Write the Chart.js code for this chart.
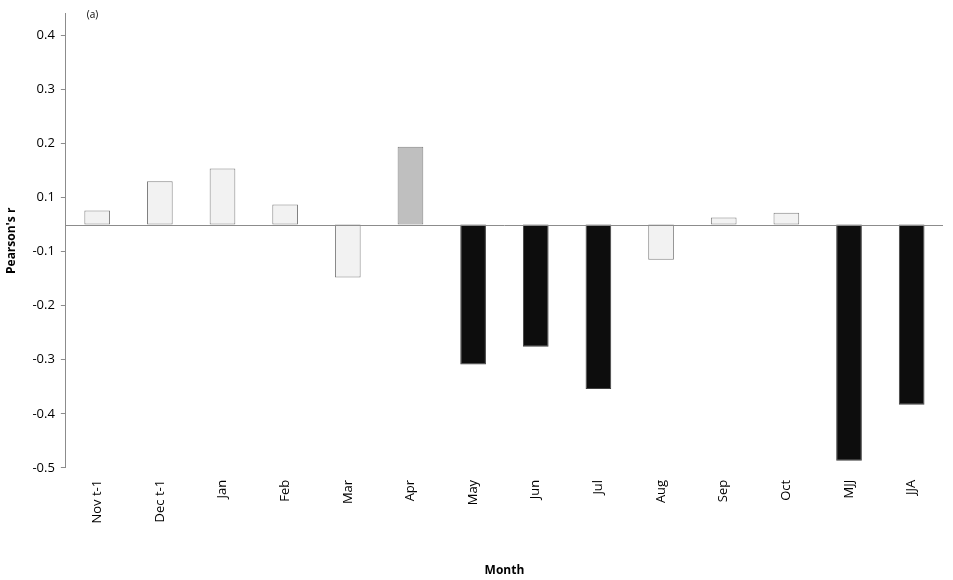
<!DOCTYPE html>
<html><head><meta charset="utf-8">
<script src="https://cdn.jsdelivr.net/npm/chart.js@4"></script>
<style>html,body{margin:0;background:#fff}#w{width:953px;height:580px}</style>
</head><body><div id="w"><canvas id="c"></canvas></div>
<script>
const categories = ["Nov t-1","Dec t-1","Jan","Feb","Mar","Apr","May","Jun","Jul","Aug","Sep","Oct","MJJ","JJA"];
const values = [0.076,0.130,0.154,0.087,-0.148,0.194,-0.309,-0.276,-0.354,-0.115,0.063,0.072,-0.487,-0.383];
const fillColors = ["#f2f2f2","#f2f2f2","#f2f2f2","#f2f2f2","#f2f2f2","#bfbfbf","#0d0d0d","#0d0d0d","#0d0d0d","#f2f2f2","#f2f2f2","#f2f2f2","#0d0d0d","#0d0d0d"];
const tickLabels = ["0.4","0.3","0.2","0.1","-0.1","-0.2","-0.3","-0.4","-0.5"];
// axis in the original skips 0: positive labels map directly, negative labels shift by 0.1, baseline sits between
const tickPos = [0.4,0.3,0.2,0.1,0.0,-0.1,-0.2,-0.3,-0.4];
const BASE = 0.05;
const toAxis = v => v >= 0 ? v : v + 0.1;
const font = {family:"'Open Sans', sans-serif", size:13};
const baseline = {id:'baseline', afterDatasetsDraw(ch){
  const {ctx, chartArea:a, scales:{y}} = ch; const py = Math.round(y.getPixelForValue(BASE))+0.5;
  ctx.save(); ctx.strokeStyle='#8c8c8c'; ctx.lineWidth=1; ctx.beginPath(); ctx.moveTo(a.left,py); ctx.lineTo(a.right,py); ctx.stroke();
  ctx.fillStyle='#000'; ctx.font="10px 'Open Sans', sans-serif"; ctx.fillText('(a)', a.left+21, 18); ctx.restore();
}};
new Chart(document.getElementById('c'), {
  type:'bar',
  data:{labels:categories, datasets:[{data:values.map(v=>[BASE,toAxis(v)]), backgroundColor:fillColors,
    borderColor:fillColors.map(c=>c==="#0d0d0d"?"#404040":"#808080"), borderWidth:1, borderSkipped:false,
    categoryPercentage:1, barPercentage:0.41}]},
  options:{responsive:true, maintainAspectRatio:false, animation:false,
    layout:{padding:{top:-5,right:10,left:0,bottom:0}},
    plugins:{legend:{display:false}, tooltip:{enabled:false}},
    scales:{
      x:{grid:{display:false, drawTicks:false}, border:{display:false},
        ticks:{font, color:'#000', minRotation:90, maxRotation:90, padding:12},
        title:{display:true, text:'Month', font:{...font, size:12, weight:'bold'}, color:'#000', padding:{top:28,bottom:2}}},
      y:{min:-0.4, max:0.44, grid:{display:true, drawOnChartArea:false, drawTicks:true, tickLength:5, color:'#8c8c8c'},
        border:{display:true, color:'#8c8c8c'},
        afterBuildTicks:s=>{s.ticks=tickPos.map(v=>({value:v}));},
        ticks:{font:{...font,size:13}, color:'#000', padding:6, callback:(v,i)=>tickLabels[i]},
        title:{display:true, text:"Pearson's r", font:{...font, size:12, weight:'bold'}, color:'#000', padding:{bottom:8}}}
    }},
  plugins:[baseline]
});
</script></body></html>
